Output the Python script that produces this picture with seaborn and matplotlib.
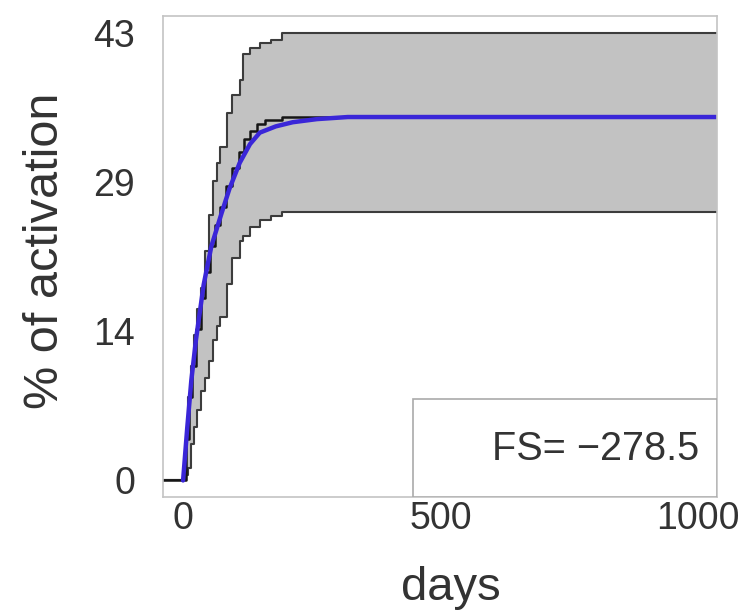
import numpy as np
import pandas as pd
import seaborn as sns
import matplotlib.pyplot as plt

sns.set_style('white')
plt.rcParams['font.family'] = ['Liberation Sans', 'DejaVu Sans']

# envelope of the simulations (days, upper, lower)
band_days = [-40, 0, 5, 10, 16, 22, 28, 35, 42, 50, 58, 65, 72, 85, 95, 110, 116, 130, 149, 170, 193, 1037]
band_upper = [0, 0, 4, 8, 11, 14, 16.5, 18.5, 22, 25.5, 28.8, 30.5, 32, 35.3, 37, 38.5, 41, 41.5, 42, 42.3, 43, 43]
band_lower = [0, 0, 0.5, 1.2, 3.5, 5.1, 6.8, 8.6, 9.8, 11.5, 13.5, 14.8, 15.7, 18.9, 21.4, 23, 23.5, 24.3, 25, 25.4, 25.8, 25.8]

# observed activation (step curve)
obs_days = [-40, 0, 6, 12, 18, 26, 34, 42, 52, 62, 72, 84, 96, 108, 118, 130, 143, 160, 193, 1037]
obs_vals = [0, 0, 4, 8, 11, 14.5, 17.5, 20, 22.5, 24.5, 26.3, 28.3, 30, 31.5, 32.8, 33.6, 34.2, 34.6, 34.9, 34.9]

# fitted curve
fit_days = [0, 8, 16, 25, 40, 55, 75, 90, 110, 130, 149, 180, 213, 260, 320, 1037]
fit_vals = [0, 5, 9.6, 13.5, 18.8, 22.5, 25.7, 28, 30.5, 32.3, 33.4, 34.0, 34.4, 34.7, 34.9, 34.9]

y_ticks = [0, 43 / 3, 86 / 3, 43]
y_labels = ['0', '14', '29', '43']
x_ticks = [0, 500, 1000]
fs_text = 'FS= \u2212278.5'

fig = plt.figure(figsize=(7.46, 6.16), dpi=100)
ax = fig.add_axes([0.2185, 0.193, 0.7425, 0.781])

ax.fill_between(band_days, band_lower, band_upper, step='post', color='#c2c2c2', lw=0)
band = pd.DataFrame({'days': band_days, 'upper': band_upper, 'lower': band_lower})
sns.lineplot(data=band, x='days', y='upper', drawstyle='steps-post', color='#3c3c3c', lw=1.5, ax=ax)
sns.lineplot(data=band, x='days', y='lower', drawstyle='steps-post', color='#3c3c3c', lw=1.5, ax=ax)

obs = pd.DataFrame({'days': obs_days, 'act': obs_vals})
sns.lineplot(data=obs, x='days', y='act', drawstyle='steps-post', color='#151515', lw=1.8, ax=ax)
fit = pd.DataFrame({'days': fit_days, 'act': fit_vals})
sns.lineplot(data=fit, x='days', y='act', color='#3a26d8', lw=3.2, ax=ax)

ax.set_xlim(-39, 1037)
ax.set_ylim(-1.6, 44.6)
ax.set_yticks(y_ticks)
ax.set_yticklabels(y_labels)
ax.set_xticks(x_ticks)
ax.tick_params(axis='both', labelsize=27, labelcolor='#333333', color='#bbbbbb',
               direction='in', length=3)
ax.tick_params(axis='x', pad=3)
ax.tick_params(axis='y', pad=20)
for s in ax.spines.values():
    s.set_color('#c4c4c4')
    s.set_linewidth(1.2)

ax.set_xlabel('days', fontsize=34, color='#333333')
ax.set_ylabel('% of activation', fontsize=35, color='#333333')
ax.xaxis.set_label_coords(0.52, -0.143)
ax.yaxis.set_label_coords(-0.171, 0.511)

box = plt.Rectangle((0.451, 0.0), 0.549, 0.204, transform=ax.transAxes,
                    facecolor='white', edgecolor='#aaaaaa', lw=1.2, zorder=5)
ax.add_patch(box)
ax.text(0.968, 0.1, fs_text, transform=ax.transAxes, ha='right', va='center',
        fontsize=28.5, color='#333333', zorder=6)

fig.savefig('out.png', dpi=100)
